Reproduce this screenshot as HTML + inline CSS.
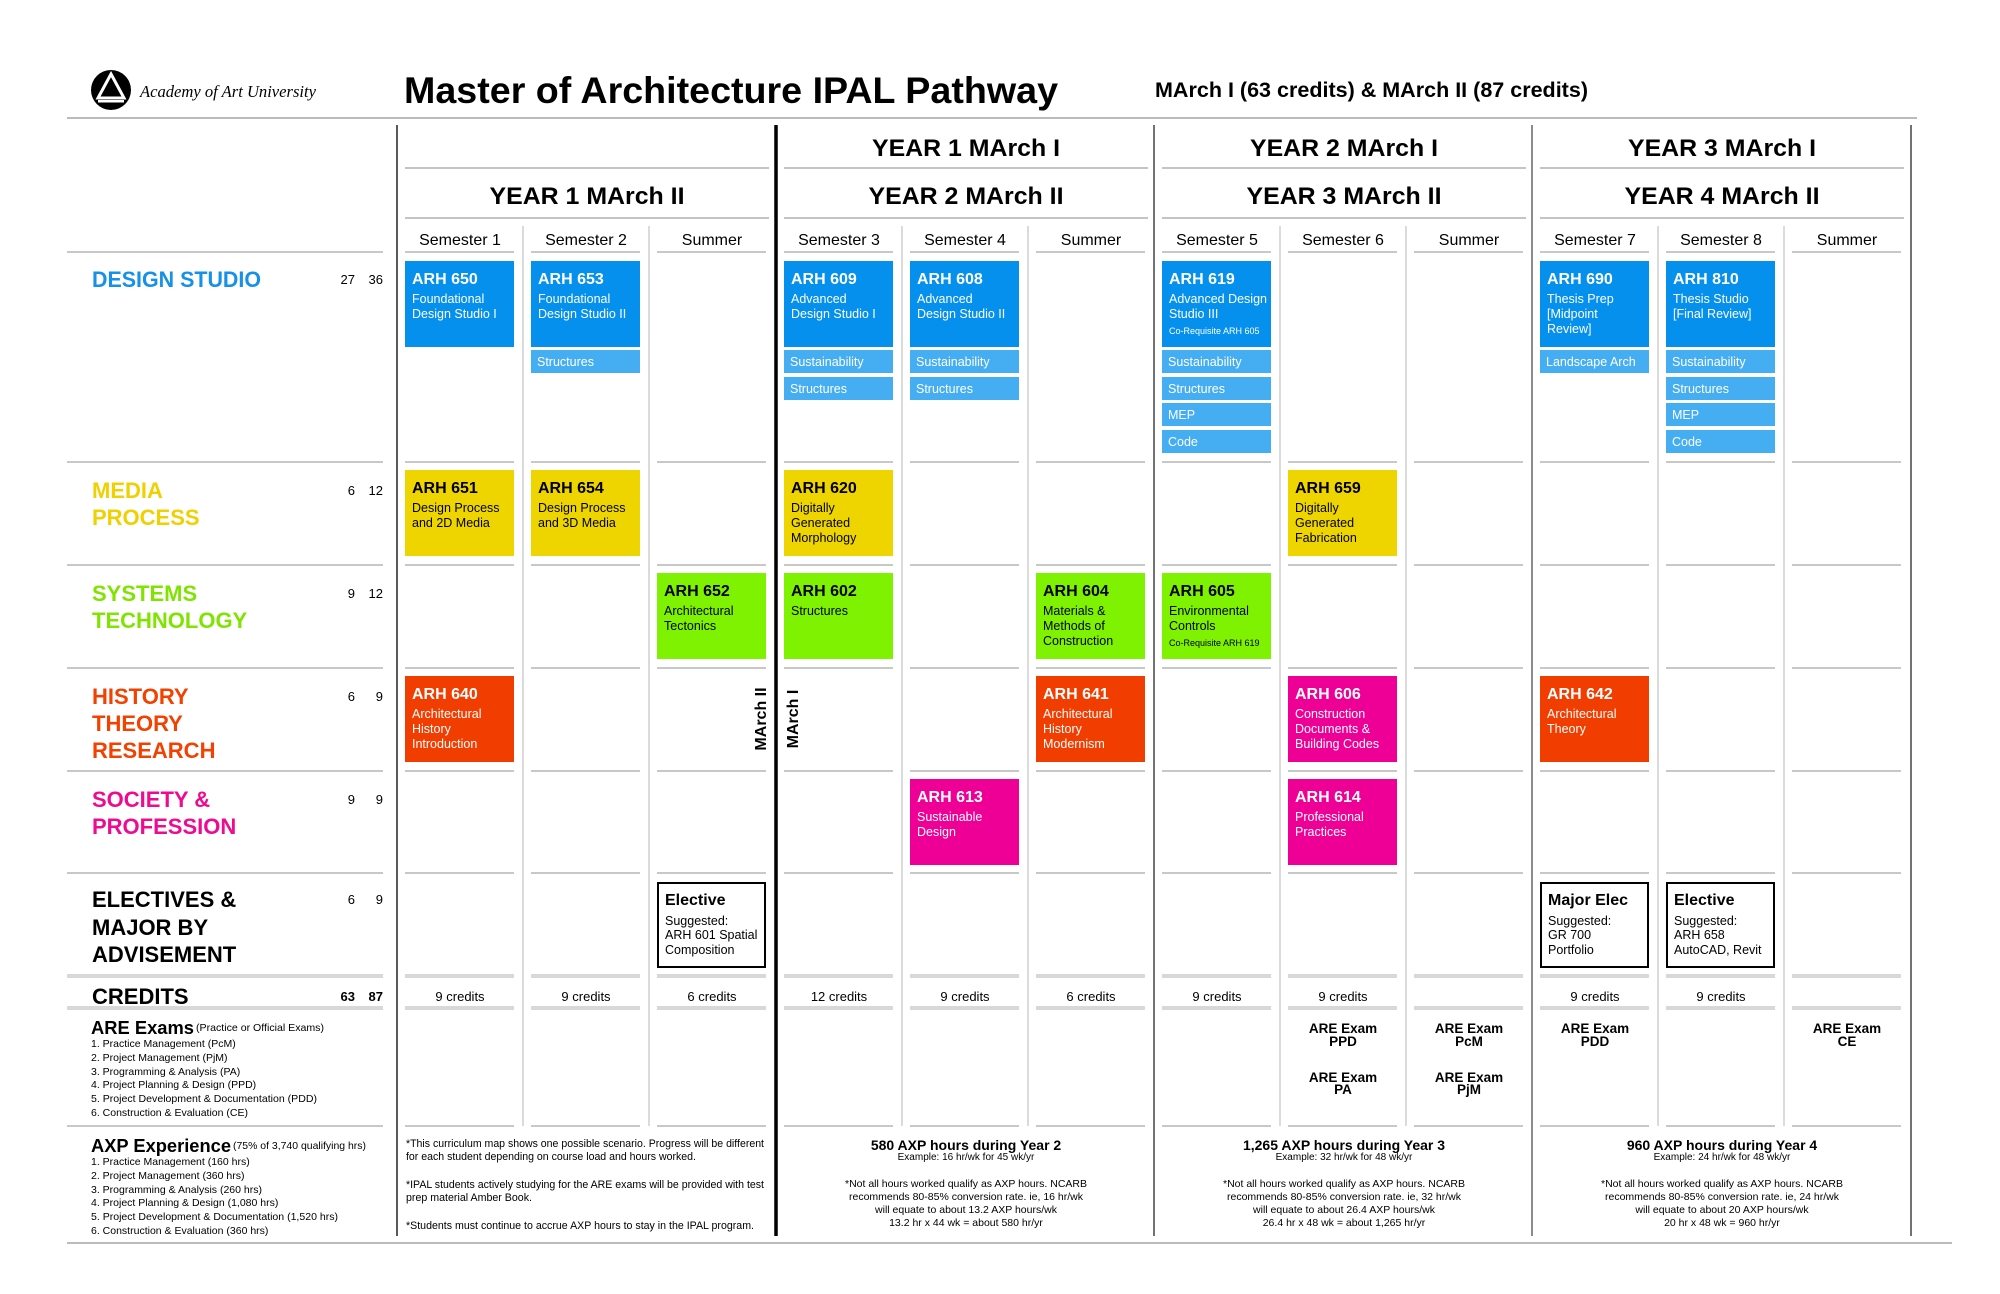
<!DOCTYPE html>
<html><head><meta charset="utf-8"><style>
html,body{margin:0;padding:0;background:#fff}
svg{display:block}
text{font-family:"Liberation Sans",Arial,sans-serif}
</style></head><body>
<svg width="2000" height="1294" viewBox="0 0 2000 1294" xmlns="http://www.w3.org/2000/svg">
<rect width="2000" height="1294" fill="#fff"/>
<!-- logo -->
<circle cx="111" cy="90" r="20" fill="#000"/>
<path d="M111 74 L124 98 L98 98 Z" fill="none" stroke="#fff" stroke-width="3"/>
<path d="M111 82 L104 95" stroke="#000" stroke-width="3"/>
<rect x="98" y="100" width="26" height="2.5" fill="#fff"/>
<text x="140" y="97" font-family="Liberation Serif,serif" font-style="italic" font-size="17" style="font-family:'Liberation Serif',serif" textLength="176" lengthAdjust="spacingAndGlyphs">Academy of Art University</text>
<text x="404" y="103" font-weight="bold" font-size="37" textLength="654" lengthAdjust="spacingAndGlyphs">Master of Architecture IPAL Pathway</text>
<text x="1155" y="97" font-weight="bold" font-size="21" textLength="433" lengthAdjust="spacingAndGlyphs">MArch I (63 credits) &amp; MArch II (87 credits)</text>
<path d="M67 118 H1917" stroke="#bbb" stroke-width="2"/>
<path d="M67 1243 H1952" stroke="#bbb" stroke-width="2"/>

<!-- header lines per block -->
<g stroke="#c4c4c4" stroke-width="2">
<path d="M405 168 h364 M784 168 h364 M1162 168 h364 M1540 168 h364"/>
<path d="M405 218 h364 M784 218 h364 M1162 218 h364 M1540 218 h364"/>
</g>
<!-- row lines -->
<g stroke="#c8c8c8" stroke-width="2">
<path d="M67 252 H383 M405 252 h109 M531 252 h109 M657 252 h109 M784 252 h109 M910 252 h109 M1036 252 h109 M1162 252 h109 M1288 252 h109 M1414 252 h109 M1540 252 h109 M1666 252 h109 M1792 252 h109"/>
<path d="M67 462 H383 M405 462 h109 M531 462 h109 M657 462 h109 M784 462 h109 M910 462 h109 M1036 462 h109 M1162 462 h109 M1288 462 h109 M1414 462 h109 M1540 462 h109 M1666 462 h109 M1792 462 h109"/>
<path d="M67 565 H383 M405 565 h109 M531 565 h109 M657 565 h109 M784 565 h109 M910 565 h109 M1036 565 h109 M1162 565 h109 M1288 565 h109 M1414 565 h109 M1540 565 h109 M1666 565 h109 M1792 565 h109"/>
<path d="M67 668 H383 M405 668 h109 M531 668 h109 M657 668 h109 M784 668 h109 M910 668 h109 M1036 668 h109 M1162 668 h109 M1288 668 h109 M1414 668 h109 M1540 668 h109 M1666 668 h109 M1792 668 h109"/>
<path d="M67 771 H383 M405 771 h109 M531 771 h109 M657 771 h109 M784 771 h109 M910 771 h109 M1036 771 h109 M1162 771 h109 M1288 771 h109 M1414 771 h109 M1540 771 h109 M1666 771 h109 M1792 771 h109"/>
<path d="M67 873 H383 M405 873 h109 M531 873 h109 M657 873 h109 M784 873 h109 M910 873 h109 M1036 873 h109 M1162 873 h109 M1288 873 h109 M1414 873 h109 M1540 873 h109 M1666 873 h109 M1792 873 h109"/>
<path d="M67 1126 H383 M405 1126 h109 M531 1126 h109 M657 1126 h109 M784 1126 h109 M910 1126 h109 M1036 1126 h109 M1162 1126 h109 M1288 1126 h109 M1414 1126 h109 M1540 1126 h109 M1666 1126 h109 M1792 1126 h109"/>
</g>
<g stroke="#d8d8d8" stroke-width="4">
<path d="M67 976 H383 M405 976 h109 M531 976 h109 M657 976 h109 M784 976 h109 M910 976 h109 M1036 976 h109 M1162 976 h109 M1288 976 h109 M1414 976 h109 M1540 976 h109 M1666 976 h109 M1792 976 h109"/>
<path d="M67 1008 H383 M405 1008 h109 M531 1008 h109 M657 1008 h109 M784 1008 h109 M910 1008 h109 M1036 1008 h109 M1162 1008 h109 M1288 1008 h109 M1414 1008 h109 M1540 1008 h109 M1666 1008 h109 M1792 1008 h109"/>
</g>
<!-- sub-col separators -->
<g stroke="#cfcfcf" stroke-width="1.5">
<path d="M523 226 V1126 M649 226 V1126 M902 226 V1126 M1028 226 V1126 M1280 226 V1126 M1406 226 V1126 M1658 226 V1126 M1784 226 V1126"/>
</g>
<!-- block lines -->
<path d="M397 125 V1236" stroke="#222" stroke-width="1.5"/>
<path d="M776 125 V1236" stroke="#000" stroke-width="3.5"/>
<path d="M1154 125 V1236" stroke="#444" stroke-width="1.5"/>
<path d="M1532 125 V1236" stroke="#666" stroke-width="1.5"/>
<path d="M1911 125 V1236" stroke="#444" stroke-width="1.5"/>

<!-- Year titles -->
<g font-weight="bold" font-size="24" text-anchor="middle">
<text x="587" y="204" textLength="195" lengthAdjust="spacingAndGlyphs">YEAR 1 MArch II</text>
<text x="966" y="156" textLength="188" lengthAdjust="spacingAndGlyphs">YEAR 1 MArch I</text>
<text x="966" y="204" textLength="195" lengthAdjust="spacingAndGlyphs">YEAR 2 MArch II</text>
<text x="1344" y="156" textLength="188" lengthAdjust="spacingAndGlyphs">YEAR 2 MArch I</text>
<text x="1344" y="204" textLength="195" lengthAdjust="spacingAndGlyphs">YEAR 3 MArch II</text>
<text x="1722" y="156" textLength="188" lengthAdjust="spacingAndGlyphs">YEAR 3 MArch I</text>
<text x="1722" y="204" textLength="195" lengthAdjust="spacingAndGlyphs">YEAR 4 MArch II</text>
</g>
<g font-size="16" text-anchor="middle">
<text x="460" y="245">Semester 1</text><text x="586" y="245">Semester 2</text><text x="712" y="245">Summer</text>
<text x="839" y="245">Semester 3</text><text x="965" y="245">Semester 4</text><text x="1091" y="245">Summer</text>
<text x="1217" y="245">Semester 5</text><text x="1343" y="245">Semester 6</text><text x="1469" y="245">Summer</text>
<text x="1595" y="245">Semester 7</text><text x="1721" y="245">Semester 8</text><text x="1847" y="245">Summer</text>
</g>

<!-- Left labels -->
<g font-weight="bold" font-size="22">
<text x="92" y="287" fill="#1690e8" textLength="169" lengthAdjust="spacingAndGlyphs">DESIGN STUDIO</text>
<text x="92" y="498" fill="#efd000">MEDIA</text>
<text x="92" y="525" fill="#efd000">PROCESS</text>
<text x="92" y="601" fill="#80e400">SYSTEMS</text>
<text x="92" y="628" fill="#80e400">TECHNOLOGY</text>
<text x="92" y="704" fill="#f24100">HISTORY</text>
<text x="92" y="731" fill="#f24100">THEORY</text>
<text x="92" y="758" fill="#f24100">RESEARCH</text>
<text x="92" y="807" fill="#ee0a92">SOCIETY &amp;</text>
<text x="92" y="834" fill="#ee0a92">PROFESSION</text>
<text x="92" y="907" fill="#000">ELECTIVES &amp;</text>
<text x="92" y="935" fill="#000">MAJOR BY</text>
<text x="92" y="962" fill="#000">ADVISEMENT</text>
<text x="92" y="1004" fill="#000">CREDITS</text>
</g>
<g font-size="13" text-anchor="end">
<text x="355" y="284">27</text><text x="383" y="284">36</text>
<text x="355" y="495">6</text><text x="383" y="495">12</text>
<text x="355" y="598">9</text><text x="383" y="598">12</text>
<text x="355" y="701">6</text><text x="383" y="701">9</text>
<text x="355" y="804">9</text><text x="383" y="804">9</text>
<text x="355" y="904">6</text><text x="383" y="904">9</text>
<text x="355" y="1001" font-weight="bold">63</text><text x="383" y="1001" font-weight="bold">87</text>
</g>

<!-- ARE / AXP lists -->
<text x="91" y="1034" font-weight="bold" font-size="18" textLength="103" lengthAdjust="spacingAndGlyphs">ARE Exams</text>
<text x="196" y="1031" font-size="10.5" textLength="128" lengthAdjust="spacingAndGlyphs">(Practice or Official Exams)</text>
<g font-size="10.5">
<text x="91" y="1047">1. Practice Management (PcM)</text>
<text x="91" y="1061">2. Project Management (PjM)</text>
<text x="91" y="1075">3. Programming &amp; Analysis (PA)</text>
<text x="91" y="1088">4. Project Planning &amp; Design (PPD)</text>
<text x="91" y="1102" textLength="226" lengthAdjust="spacingAndGlyphs">5. Project Development &amp; Documentation (PDD)</text>
<text x="91" y="1116">6. Construction &amp; Evaluation (CE)</text>
</g>
<text x="91" y="1152" font-weight="bold" font-size="18" textLength="140" lengthAdjust="spacingAndGlyphs">AXP Experience</text>
<text x="233" y="1149" font-size="10.5" textLength="133" lengthAdjust="spacingAndGlyphs">(75% of 3,740 qualifying hrs)</text>
<g font-size="10.5">
<text x="91" y="1165">1. Practice Management (160 hrs)</text>
<text x="91" y="1179">2. Project Management (360 hrs)</text>
<text x="91" y="1193">3. Programming &amp; Analysis (260 hrs)</text>
<text x="91" y="1206">4. Project Planning &amp; Design (1,080 hrs)</text>
<text x="91" y="1220" textLength="247" lengthAdjust="spacingAndGlyphs">5. Project Development &amp; Documentation (1,520 hrs)</text>
<text x="91" y="1234">6. Construction &amp; Evaluation (360 hrs)</text>
</g>

<!-- Design studio boxes -->
<g>
<rect x="405" y="261" width="109" height="86" fill="#0590ee"/>
<rect x="531" y="261" width="109" height="86" fill="#0590ee"/>
<rect x="784" y="261" width="109" height="86" fill="#0590ee"/>
<rect x="910" y="261" width="109" height="86" fill="#0590ee"/>
<rect x="1162" y="261" width="109" height="86" fill="#0590ee"/>
<rect x="1540" y="261" width="109" height="86" fill="#0590ee"/>
<rect x="1666" y="261" width="109" height="86" fill="#0590ee"/>
</g>
<g fill="#45aef2">
<rect x="531" y="350" width="109" height="23"/>
<rect x="784" y="350" width="109" height="23"/><rect x="784" y="377" width="109" height="23"/>
<rect x="910" y="350" width="109" height="23"/><rect x="910" y="377" width="109" height="23"/>
<rect x="1162" y="350" width="109" height="23"/><rect x="1162" y="377" width="109" height="23"/><rect x="1162" y="403" width="109" height="23"/><rect x="1162" y="430" width="109" height="23"/>
<rect x="1540" y="350" width="109" height="23"/>
<rect x="1666" y="350" width="109" height="23"/><rect x="1666" y="377" width="109" height="23"/><rect x="1666" y="403" width="109" height="23"/><rect x="1666" y="430" width="109" height="23"/>
</g>
<g fill="#fff" font-size="12.5">
<text x="537" y="366">Structures</text>
<text x="790" y="366">Sustainability</text><text x="790" y="393">Structures</text>
<text x="916" y="366">Sustainability</text><text x="916" y="393">Structures</text>
<text x="1168" y="366">Sustainability</text><text x="1168" y="393">Structures</text><text x="1168" y="419">MEP</text><text x="1168" y="446">Code</text>
<text x="1546" y="366">Landscape Arch</text>
<text x="1672" y="366">Sustainability</text><text x="1672" y="393">Structures</text><text x="1672" y="419">MEP</text><text x="1672" y="446">Code</text>
</g>

<!-- colored boxes -->
<g>
<rect x="405" y="470" width="109" height="86" fill="#efd500"/>
<rect x="531" y="470" width="109" height="86" fill="#efd500"/>
<rect x="784" y="470" width="109" height="86" fill="#efd500"/>
<rect x="1288" y="470" width="109" height="86" fill="#efd500"/>
<rect x="657" y="573" width="109" height="86" fill="#7ef200"/>
<rect x="784" y="573" width="109" height="86" fill="#7ef200"/>
<rect x="1036" y="573" width="109" height="86" fill="#7ef200"/>
<rect x="1162" y="573" width="109" height="86" fill="#7ef200"/>
<rect x="405" y="676" width="109" height="86" fill="#f23d00"/>
<rect x="1036" y="676" width="109" height="86" fill="#f23d00"/>
<rect x="1288" y="676" width="109" height="86" fill="#ee0096"/>
<rect x="1540" y="676" width="109" height="86" fill="#f23d00"/>
<rect x="910" y="779" width="109" height="86" fill="#ee0096"/>
<rect x="1288" y="779" width="109" height="86" fill="#ee0096"/>
<rect x="658" y="883" width="107" height="84" fill="#fff" stroke="#000" stroke-width="2"/>
<rect x="1541" y="883" width="107" height="84" fill="#fff" stroke="#000" stroke-width="2"/>
<rect x="1667" y="883" width="107" height="84" fill="#fff" stroke="#000" stroke-width="2"/>
</g>

<!-- box titles -->
<g font-weight="bold" font-size="16">
<g fill="#fff">
<text x="412" y="284">ARH 650</text><text x="538" y="284">ARH 653</text>
<text x="791" y="284">ARH 609</text><text x="917" y="284">ARH 608</text>
<text x="1169" y="284">ARH 619</text><text x="1547" y="284">ARH 690</text><text x="1673" y="284">ARH 810</text>
<text x="412" y="699">ARH 640</text><text x="1043" y="699">ARH 641</text><text x="1295" y="699">ARH 606</text><text x="1547" y="699">ARH 642</text>
<text x="917" y="802">ARH 613</text><text x="1295" y="802">ARH 614</text>
</g>
<g fill="#000">
<text x="412" y="493">ARH 651</text><text x="538" y="493">ARH 654</text><text x="791" y="493">ARH 620</text><text x="1295" y="493">ARH 659</text>
<text x="664" y="596">ARH 652</text><text x="791" y="596">ARH 602</text><text x="1043" y="596">ARH 604</text><text x="1169" y="596">ARH 605</text>
<text x="665" y="905">Elective</text><text x="1548" y="905">Major Elec</text><text x="1674" y="905">Elective</text>
</g>
</g>
<!-- box subtitles -->
<g font-size="12.5">
<g fill="#fff">
<text x="412" y="303">Foundational</text><text x="412" y="318">Design Studio I</text>
<text x="538" y="303">Foundational</text><text x="538" y="318">Design Studio II</text>
<text x="791" y="303">Advanced</text><text x="791" y="318">Design Studio I</text>
<text x="917" y="303">Advanced</text><text x="917" y="318">Design Studio II</text>
<text x="1169" y="303">Advanced Design</text><text x="1169" y="318">Studio III</text>
<text x="1169" y="334" font-size="9">Co-Requisite ARH 605</text>
<text x="1547" y="303">Thesis Prep</text><text x="1547" y="318">[Midpoint</text><text x="1547" y="333">Review]</text>
<text x="1673" y="303">Thesis Studio</text><text x="1673" y="318">[Final Review]</text>
<text x="412" y="718">Architectural</text><text x="412" y="733">History</text><text x="412" y="748">Introduction</text>
<text x="1043" y="718">Architectural</text><text x="1043" y="733">History</text><text x="1043" y="748">Modernism</text>
<text x="1295" y="718">Construction</text><text x="1295" y="733">Documents &amp;</text><text x="1295" y="748">Building Codes</text>
<text x="1547" y="718">Architectural</text><text x="1547" y="733">Theory</text>
<text x="917" y="821">Sustainable</text><text x="917" y="836">Design</text>
<text x="1295" y="821">Professional</text><text x="1295" y="836">Practices</text>
</g>
<g fill="#000">
<text x="412" y="512">Design Process</text><text x="412" y="527">and 2D Media</text>
<text x="538" y="512">Design Process</text><text x="538" y="527">and 3D Media</text>
<text x="791" y="512">Digitally</text><text x="791" y="527">Generated</text><text x="791" y="542">Morphology</text>
<text x="1295" y="512">Digitally</text><text x="1295" y="527">Generated</text><text x="1295" y="542">Fabrication</text>
<text x="664" y="615">Architectural</text><text x="664" y="630">Tectonics</text>
<text x="791" y="615">Structures</text>
<text x="1043" y="615">Materials &amp;</text><text x="1043" y="630">Methods of</text><text x="1043" y="645">Construction</text>
<text x="1169" y="615">Environmental</text><text x="1169" y="630">Controls</text>
<text x="1169" y="646" font-size="9">Co-Requisite ARH 619</text>
<text x="665" y="925">Suggested:</text><text x="665" y="939">ARH 601 Spatial</text><text x="665" y="954">Composition</text>
<text x="1548" y="925">Suggested:</text><text x="1548" y="939">GR 700</text><text x="1548" y="954">Portfolio</text>
<text x="1674" y="925">Suggested:</text><text x="1674" y="939">ARH 658</text><text x="1674" y="954">AutoCAD, Revit</text>
</g>
</g>

<!-- rotated labels -->
<text transform="translate(766,719) rotate(-90)" text-anchor="middle" font-weight="bold" font-size="16">MArch II</text>
<text transform="translate(798,719) rotate(-90)" text-anchor="middle" font-weight="bold" font-size="16">MArch I</text>

<!-- credits -->
<g font-size="13" text-anchor="middle">
<text x="460" y="1001">9 credits</text><text x="586" y="1001">9 credits</text><text x="712" y="1001">6 credits</text>
<text x="839" y="1001">12 credits</text><text x="965" y="1001">9 credits</text><text x="1091" y="1001">6 credits</text>
<text x="1217" y="1001">9 credits</text><text x="1343" y="1001">9 credits</text>
<text x="1595" y="1001">9 credits</text><text x="1721" y="1001">9 credits</text>
</g>
<!-- ARE exams -->
<g font-size="13.5" font-weight="bold" text-anchor="middle">
<text x="1343" y="1033">ARE Exam</text><text x="1343" y="1046">PPD</text>
<text x="1343" y="1082">ARE Exam</text><text x="1343" y="1094">PA</text>
<text x="1469" y="1033">ARE Exam</text><text x="1469" y="1046">PcM</text>
<text x="1469" y="1082">ARE Exam</text><text x="1469" y="1094">PjM</text>
<text x="1595" y="1033">ARE Exam</text><text x="1595" y="1046">PDD</text>
<text x="1847" y="1033">ARE Exam</text><text x="1847" y="1046">CE</text>
</g>

<!-- notes block 1 -->
<g font-size="11">
<text x="406" y="1147" textLength="358" lengthAdjust="spacingAndGlyphs">*This curriculum map shows one possible scenario. Progress will be different</text>
<text x="406" y="1160" textLength="290" lengthAdjust="spacingAndGlyphs">for each student depending on course load and hours worked.</text>
<text x="406" y="1188" textLength="358" lengthAdjust="spacingAndGlyphs">*IPAL students actively studying for the ARE exams will be provided with test</text>
<text x="406" y="1201" textLength="126" lengthAdjust="spacingAndGlyphs">prep material Amber Book.</text>
<text x="406" y="1229" textLength="348" lengthAdjust="spacingAndGlyphs">*Students must continue to accrue AXP hours to stay in the IPAL program.</text>
</g>

<!-- AXP blocks -->
<g text-anchor="middle">
<text x="966" y="1150" font-weight="bold" font-size="14">580 AXP hours during Year 2</text>
<text x="966" y="1160" font-size="10">Example: 16 hr/wk for 45 wk/yr</text>
<text x="966" y="1187" font-size="10.5">*Not all hours worked qualify as AXP hours. NCARB</text>
<text x="966" y="1200" font-size="10.5">recommends 80-85% conversion rate. ie, 16 hr/wk</text>
<text x="966" y="1213" font-size="10.5">will equate to about 13.2 AXP hours/wk</text>
<text x="966" y="1226" font-size="10.5">13.2 hr x 44 wk =  about 580 hr/yr</text>

<text x="1344" y="1150" font-weight="bold" font-size="14">1,265 AXP hours during Year 3</text>
<text x="1344" y="1160" font-size="10">Example: 32 hr/wk for 48 wk/yr</text>
<text x="1344" y="1187" font-size="10.5">*Not all hours worked qualify as AXP hours. NCARB</text>
<text x="1344" y="1200" font-size="10.5">recommends 80-85% conversion rate. ie, 32 hr/wk</text>
<text x="1344" y="1213" font-size="10.5">will equate to about 26.4 AXP hours/wk</text>
<text x="1344" y="1226" font-size="10.5">26.4 hr x 48 wk =  about 1,265 hr/yr</text>

<text x="1722" y="1150" font-weight="bold" font-size="14">960 AXP hours during Year 4</text>
<text x="1722" y="1160" font-size="10">Example: 24 hr/wk for 48 wk/yr</text>
<text x="1722" y="1187" font-size="10.5">*Not all hours worked qualify as AXP hours. NCARB</text>
<text x="1722" y="1200" font-size="10.5">recommends 80-85% conversion rate. ie, 24 hr/wk</text>
<text x="1722" y="1213" font-size="10.5">will equate to about 20 AXP hours/wk</text>
<text x="1722" y="1226" font-size="10.5">20 hr x 48 wk =  960 hr/yr</text>
</g>
</svg>
</body></html>
